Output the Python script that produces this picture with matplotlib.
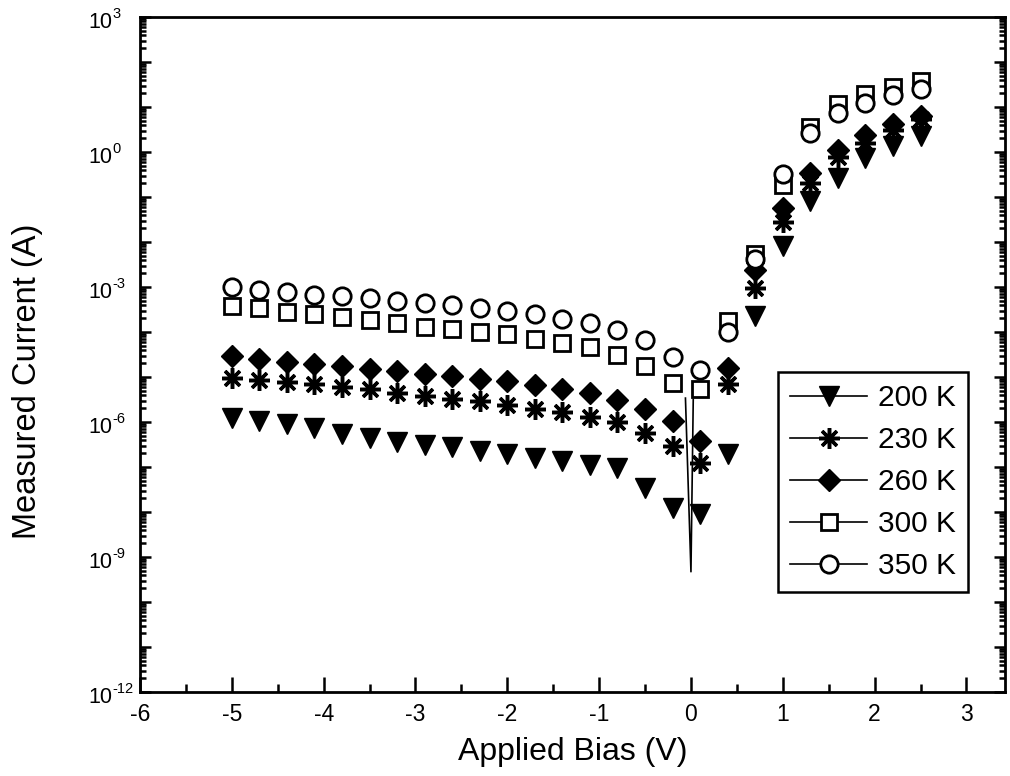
import matplotlib
matplotlib.use("Agg")
import matplotlib.pyplot as plt
from matplotlib.lines import Line2D
from matplotlib.ticker import LogLocator, FixedLocator, NullFormatter
import numpy as np

plt.rcParams['font.family'] = ['Liberation Sans', 'DejaVu Sans']
plt.rcParams['axes.unicode_minus'] = False

# Applied bias (V)
bias = [-5.0, -4.7, -4.4, -4.1, -3.8, -3.5, -3.2, -2.9, -2.6, -2.3, -2.0, -1.7, -1.4,
        -1.1, -0.8, -0.5, -0.2, 0.1, 0.4, 0.7, 1.0, 1.3, 1.6, 1.9, 2.2, 2.5]

# Measured current (A) at each temperature
i_200 = [1.2e-6, 1.05e-6, 9.1e-7, 7.4e-7, 5.4e-7, 4.4e-7, 3.6e-7, 3.1e-7, 2.75e-7, 2.3e-7,
         1.95e-7, 1.6e-7, 1.35e-7, 1.1e-7, 9.5e-8, 3.4e-8, 1.23e-8, 9.1e-9, 1.95e-7, 2.3e-4,
         8.1e-3, 8.1e-2, 0.26, 0.74, 1.35, 2.3]
i_230 = [9.5e-6, 8.5e-6, 7.8e-6, 6.9e-6, 6.0e-6, 5.4e-6, 4.4e-6, 3.8e-6, 3.2e-6, 2.95e-6,
         2.4e-6, 1.95e-6, 1.66e-6, 1.29e-6, 1.0e-6, 5.75e-7, 2.95e-7, 1.23e-7, 6.9e-6, 9.5e-4,
         2.75e-2, 0.21, 0.78, 1.6, 3.1, 5.4]
i_260 = [2.95e-5, 2.5e-5, 2.15e-5, 1.95e-5, 1.74e-5, 1.5e-5, 1.35e-5, 1.17e-5, 1.05e-5, 9.1e-6,
         8.1e-6, 6.6e-6, 5.4e-6, 4.4e-6, 3.1e-6, 1.95e-6, 1.05e-6, 3.8e-7, 1.58e-5, 2.4e-3,
         5.75e-2, 0.34, 1.1, 2.4, 4.2, 6.3]
i_300 = [3.8e-4, 3.4e-4, 2.75e-4, 2.5e-4, 2.15e-4, 1.86e-4, 1.58e-4, 1.29e-4, 1.17e-4, 1.0e-4,
         9.1e-5, 6.9e-5, 5.75e-5, 4.7e-5, 3.1e-5, 1.74e-5, 7.4e-6, 5.4e-6, 1.74e-4, 5.4e-3,
         0.186, 3.6, 11.7, 19.5, 27.5, 38.0]
i_350 = [1.0e-3, 8.5e-4, 7.8e-4, 6.6e-4, 6.3e-4, 5.75e-4, 4.9e-4, 4.4e-4, 4.0e-4, 3.4e-4,
         2.95e-4, 2.5e-4, 1.95e-4, 1.58e-4, 1.1e-4, 6.6e-5, 2.75e-5, 1.45e-5, 1.0e-4, 4.2e-3,
         0.32, 2.6, 7.4, 12.3, 18.6, 25.0]

# Fine sweep through zero bias
fine_bias = [-0.06, 0.0, 0.025]
fine_current = [3.4e-6, 4.7e-10, 3.2e-6]

labels = ['200 K', '230 K', '260 K', '300 K', '350 K']

# Decade exponents that carry a label on the current axis
label_exponents = [3, 0, -3, -6, -9, -12]

styles = [
    dict(marker='v', ms=15, mfc='black', mec='black', mew=1.0),
    dict(marker=(8, 2, 0), ms=15, mfc='black', mec='black', mew=2.5),
    dict(marker='D', ms=11.5, mfc='black', mec='black', mew=1.0),
    dict(marker='s', ms=11.5, mfc='white', mec='black', mew=2.0),
    dict(marker='o', ms=12.5, mfc='white', mec='black', mew=2.0),
]

fig = plt.figure(figsize=(10.10, 7.76), dpi=100)
ax = fig.add_axes([140 / 1010, 1 - 692 / 776, 865 / 1010, 675 / 776])

ax.plot(fine_bias, fine_current, color='black', lw=1.2, zorder=1)

series = [i_200, i_230, i_260, i_300, i_350]
for k, (cur, st) in enumerate(zip(series, styles)):
    ax.plot(bias, cur, linestyle='none', zorder=2 + k, **st)

ax.set_yscale('log')
ax.set_xlim(-6, 3.42)
ax.set_ylim(1e-12, 1e3)

# x ticks
ax.set_xticks([-6, -5, -4, -3, -2, -1, 0, 1, 2, 3])
ax.set_xticks(np.arange(-5.5, 3.4, 1.0), minor=True)

# y ticks: every decade; labels drawn as base + small raised exponent
decades = [10.0 ** e for e in range(-12, 4)]
ax.yaxis.set_major_locator(FixedLocator(decades))
ax.yaxis.set_major_formatter(NullFormatter())
ax.yaxis.set_minor_locator(LogLocator(base=10, subs=np.arange(2, 10), numticks=100))
ax.yaxis.set_minor_formatter(NullFormatter())

for e in label_exponents:
    v = 10.0 ** e
    ax.annotate('10', xy=(0, v), xycoords=('axes fraction', 'data'),
                xytext=(-20.2, -8.0), textcoords='offset points',
                ha='right', va='baseline', fontsize=15.5, annotation_clip=False)
    ax.annotate(str(e), xy=(0, v), xycoords=('axes fraction', 'data'),
                xytext=(-19.6, -0.8), textcoords='offset points',
                ha='left', va='baseline', fontsize=10.5, annotation_clip=False)

ax.tick_params(axis='both', which='both', direction='in', color='black', width=1.8)
ax.tick_params(axis='x', which='major', length=11, labelsize=16.5, pad=8, top=False)
ax.tick_params(axis='x', which='minor', length=6, top=False)
ax.tick_params(axis='y', which='major', length=8, right=True)
ax.tick_params(axis='y', which='minor', length=4.5, right=True)

for sp in ax.spines.values():
    sp.set_linewidth(2.0)
    sp.set_color('black')

ax.set_xlabel('Applied Bias (V)', fontsize=23, labelpad=8)
ax.set_ylabel('Measured Current (A)', fontsize=23.5)
ax.yaxis.set_label_coords(-0.112, 0.461)

handles = [Line2D([], [], color='black', lw=1.2, **st) for st in styles]
leg = ax.legend(handles, labels, loc='lower right', bbox_to_anchor=(0.957, 0.148),
                borderaxespad=0, fontsize=21.5, frameon=True, fancybox=False,
                edgecolor='black', framealpha=1, handlelength=2.6, handletextpad=0.35,
                labelspacing=0.47, borderpad=0.4, numpoints=1)
leg.get_frame().set_linewidth(1.8)

fig.savefig('out.png', dpi=100)
